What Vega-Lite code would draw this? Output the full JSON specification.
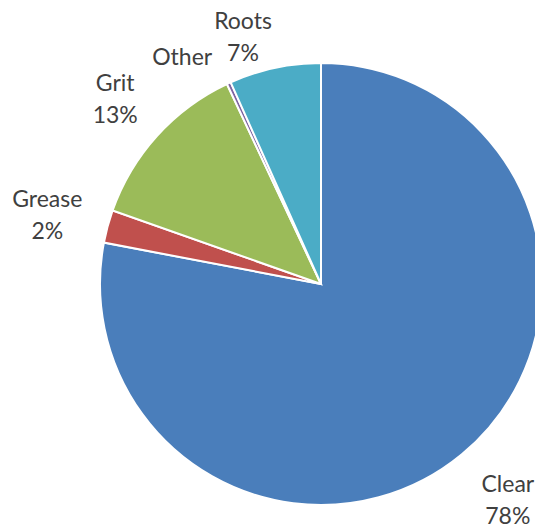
{
  "$schema": "https://vega.github.io/schema/vega-lite/v6.json",
  "width": 428,
  "height": 490,
  "autosize": {"type": "none"},
  "padding": {"left": 107, "top": 39, "right": 0, "bottom": 0},
  "background": "white",
  "view": {"stroke": null},
  "data": {
    "values": [
      {"category": "Clear", "value": 78.0, "label": "Clear\n78%"},
      {"category": "Grease", "value": 2.4, "label": "Grease\n2%"},
      {"category": "Grit", "value": 12.6, "label": "Grit\n13%"},
      {"category": "Other", "value": 0.3, "label": "Other"},
      {"category": "Roots", "value": 6.7, "label": "Roots\n7%"}
    ]
  },
  "transform": [
    {"stack": "value", "groupby": [], "sort": [{"field": "category", "order": "ascending"}], "as": ["v0", "v1"]},
    {"calculate": "(datum.v0 + datum.v1) / 2", "as": "vmid"}
  ],
  "layer": [
    {
      "mark": {"type": "arc", "outerRadius": 221, "stroke": "white", "strokeWidth": 2},
      "encoding": {
        "theta": {"field": "v0", "type": "quantitative", "scale": {"domain": [0, 100], "range": [0, 6.283185307179586]}},
        "theta2": {"field": "v1"},
        "color": {
          "field": "category",
          "type": "nominal",
          "scale": {
            "domain": ["Clear", "Grease", "Grit", "Other", "Roots"],
            "range": ["#4a7ebb", "#c0504d", "#9bbb59", "#8064a2", "#4bacc6"]
          },
          "legend": null
        }
      }
    },
    {
      "transform": [{"filter": "datum.category === 'Clear'"}],
      "mark": {"type": "text", "radius": 268, "dx": 16, "dy": -5, "font": "Lato", "fontSize": 23, "lineBreak": "\n", "lineHeight": 32, "color": "#404040", "align": "center", "baseline": "middle"},
      "encoding": {
        "theta": {"field": "vmid", "type": "quantitative", "scale": {"domain": [0, 100], "range": [0, 6.283185307179586]}},
        "text": {"field": "label", "type": "nominal"}
      }
    },
    {
      "transform": [{"filter": "datum.category === 'Grease'"}],
      "mark": {"type": "text", "radius": 268, "dx": -15, "dy": -14, "font": "Lato", "fontSize": 23, "lineBreak": "\n", "lineHeight": 32, "color": "#404040", "align": "center", "baseline": "middle"},
      "encoding": {
        "theta": {"field": "vmid", "type": "quantitative", "scale": {"domain": [0, 100], "range": [0, 6.283185307179586]}},
        "text": {"field": "label", "type": "nominal"}
      }
    },
    {
      "transform": [{"filter": "datum.category === 'Grit'"}],
      "mark": {"type": "text", "radius": 268, "dx": -7, "dy": -20, "font": "Lato", "fontSize": 23, "lineBreak": "\n", "lineHeight": 32, "color": "#404040", "align": "center", "baseline": "middle"},
      "encoding": {
        "theta": {"field": "vmid", "type": "quantitative", "scale": {"domain": [0, 100], "range": [0, 6.283185307179586]}},
        "text": {"field": "label", "type": "nominal"}
      }
    },
    {
      "transform": [{"filter": "datum.category === 'Other'"}],
      "mark": {"type": "text", "radius": 268, "dx": -27, "dy": 18, "font": "Lato", "fontSize": 23, "lineBreak": "\n", "lineHeight": 32, "color": "#404040", "align": "center", "baseline": "middle"},
      "encoding": {
        "theta": {"field": "vmid", "type": "quantitative", "scale": {"domain": [0, 100], "range": [0, 6.283185307179586]}},
        "text": {"field": "label", "type": "nominal"}
      }
    },
    {
      "transform": [{"filter": "datum.category === 'Roots'"}],
      "mark": {"type": "text", "radius": 268, "dx": -22, "dy": 0, "font": "Lato", "fontSize": 23, "lineBreak": "\n", "lineHeight": 32, "color": "#404040", "align": "center", "baseline": "middle"},
      "encoding": {
        "theta": {"field": "vmid", "type": "quantitative", "scale": {"domain": [0, 100], "range": [0, 6.283185307179586]}},
        "text": {"field": "label", "type": "nominal"}
      }
    }
  ]
}
